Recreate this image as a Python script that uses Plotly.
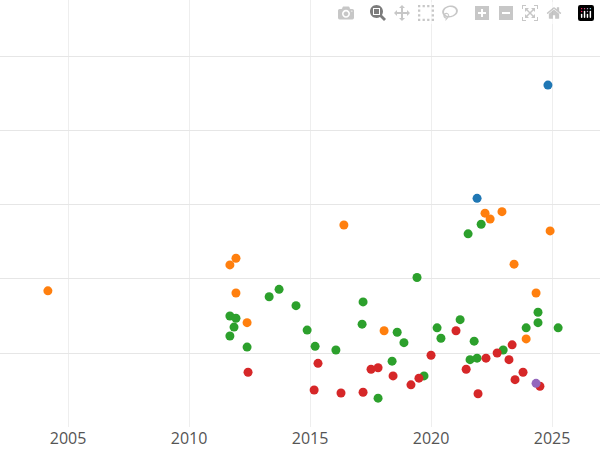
import plotly.graph_objects as go
from datetime import datetime, timedelta

def to_date(y):
    yr = int(y)
    start = datetime(yr, 1, 1)
    return start + timedelta(days=(y - yr) * 365.25)

blue_x = [2024.83, 2021.90]
blue_y = [4.62, 3.09]
orange_x = [2004.17, 2011.69, 2011.94, 2011.94, 2012.40, 2016.40, 2018.06, 2022.23, 2022.44, 2022.93, 2023.43, 2024.34, 2023.93, 2024.92]
orange_y = [1.84, 2.19, 2.28, 1.81, 1.41, 2.73, 1.30, 2.89, 2.81, 2.91, 2.20, 1.81, 1.19, 2.65]
green_x = [2011.69, 2011.94, 2011.86, 2011.69, 2012.40, 2013.31, 2013.72, 2014.42, 2014.88, 2015.21, 2016.07, 2017.19, 2017.15, 2017.81, 2018.39, 2018.60, 2018.88, 2019.42, 2019.71, 2020.25, 2020.41, 2021.20, 2021.53, 2021.61, 2021.78, 2021.90, 2022.07, 2022.98, 2023.93, 2024.42, 2024.42, 2025.25]
green_y = [1.50, 1.47, 1.35, 1.23, 1.08, 1.76, 1.86, 1.64, 1.31, 1.09, 1.04, 1.69, 1.39, 0.39, 0.89, 1.28, 1.14, 2.02, 0.69, 1.34, 1.20, 1.45, 2.61, 0.91, 1.16, 0.93, 2.74, 1.04, 1.34, 1.55, 1.41, 1.34]
red_x = [2012.44, 2015.33, 2015.17, 2016.28, 2017.19, 2017.52, 2017.81, 2018.43, 2019.17, 2019.50, 2020.00, 2021.03, 2021.45, 2021.94, 2022.27, 2022.73, 2023.22, 2023.35, 2023.47, 2023.80, 2024.50]
red_y = [0.74, 0.86, 0.50, 0.46, 0.47, 0.78, 0.80, 0.69, 0.57, 0.66, 0.97, 1.30, 0.78, 0.45, 0.93, 1.00, 0.91, 1.11, 0.64, 0.74, 0.55]
purple_x = [2024.34]
purple_y = [0.59]

series = [(blue_x, blue_y, "#1f77b4"), (orange_x, orange_y, "#ff7f0e"),
          (green_x, green_y, "#2ca02c"), (red_x, red_y, "#d62728"),
          (purple_x, purple_y, "#9467bd")]

fig = go.Figure()
for xs, ys, c in series:
    fig.add_trace(go.Scatter(x=[to_date(v) for v in xs], y=ys, mode="markers",
                             marker=dict(color=c, size=9), showlegend=False))

fig.update_layout(
    width=600, height=450, paper_bgcolor="white", plot_bgcolor="white",
    margin=dict(l=0, r=0, t=0, b=23),
    xaxis=dict(range=[to_date(2002.19), to_date(2026.98)], showgrid=True, gridcolor="#eeeeee",
               tickvals=[datetime(y, 1, 1) for y in [2005, 2010, 2015, 2020, 2025]],
               ticktext=["2005", "2010", "2015", "2020", "2025"],
               tickfont=dict(size=16, color="#555555"), zeroline=False),
    yaxis=dict(range=[0, 5.77], showgrid=True, gridcolor="#e6e6e6", dtick=1,
               showticklabels=False, zeroline=False),
)
fig.write_html("out.html", post_script="document.body.style.margin='0';document.body.style.overflow='hidden';")
